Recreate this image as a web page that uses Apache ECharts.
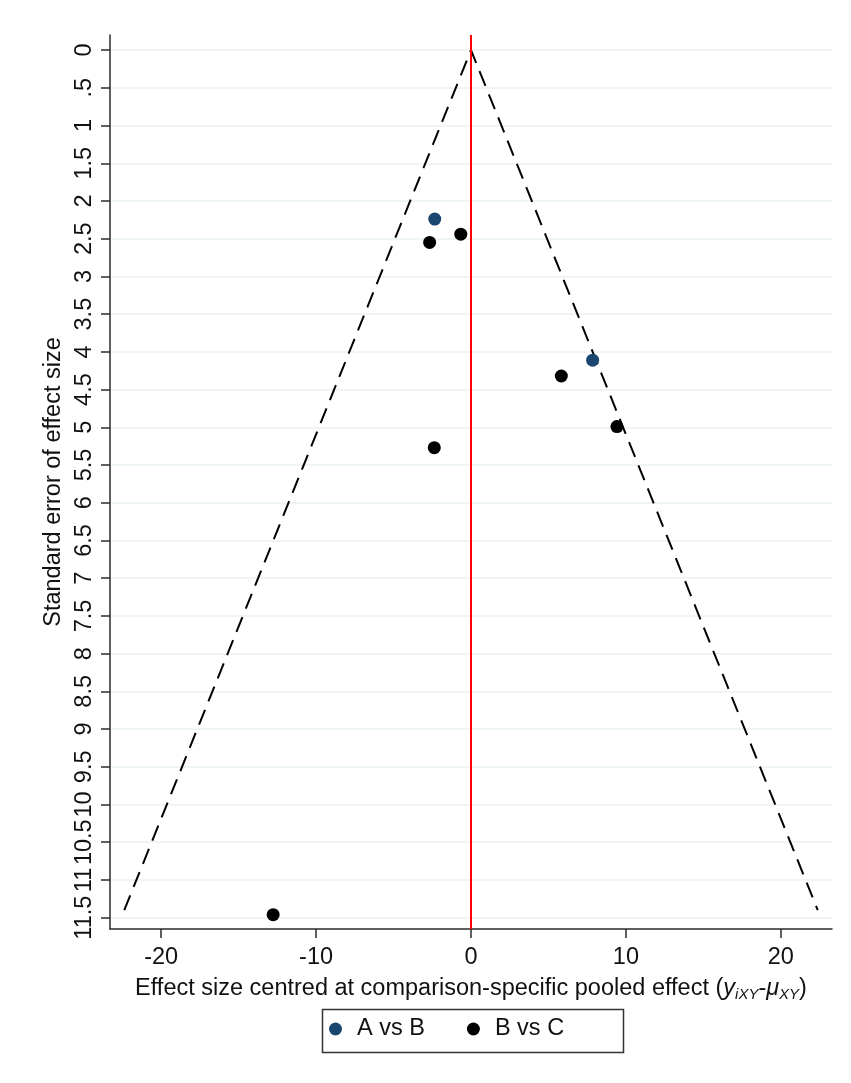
<!DOCTYPE html>
<html>
<head>
<meta charset="utf-8">
<script src="https://cdn.jsdelivr.net/npm/echarts@6/dist/echarts.min.js"></script>
<style>html,body{margin:0;padding:0;background:#fff}#c{width:851px;height:1083px}</style>
</head>
<body>
<div id="c"></div>
<script>
// ---- data ----
const yTicks = [0,0.5,1,1.5,2,2.5,3,3.5,4,4.5,5,5.5,6,6.5,7,7.5,8,8.5,9,9.5,10,10.5,11,11.5];
const xTicks = [-20,-10,0,10,20];
const seriesNames = ['A vs B','B vs C'];
const abX = [-2.34, 7.85];
const abY = [2.24, 4.11];
const bcX = [-0.66, -2.67, 5.83, 9.42, -2.37, -12.77];
const bcY = [2.44, 2.55, 4.32, 4.99, 5.27, 11.46];
const funnelX = [-22.38, 0, 22.38];
const funnelY = [11.4, 0, 11.4];

const FONT = 'Liberation Sans, Arial, sans-serif';
const FS = 23.5;
const zip = (xs, ys) => xs.map((x, i) => [x, ys[i]]);

const chart = echarts.init(document.getElementById('c'), null, {renderer: 'canvas'});
chart.setOption({
  animation: false,
  backgroundColor: '#ffffff',
  textStyle: {fontFamily: FONT},
  grid: {left: 110, right: 19, top: 35, bottom: 154, containLabel: false, outerBoundsMode: 'none'},
  xAxis: {
    type: 'value', min: -23.3, max: 23.3,
    axisLine: {show: true, onZero: false, lineStyle: {color: '#2b2b2b', width: 1.5}},
    axisTick: {show: true, length: 9, lineStyle: {color: '#2b2b2b', width: 1.5}, customValues: xTicks},
    axisLabel: {show: true, customValues: xTicks, margin: 17, fontSize: FS, color: '#111', fontFamily: FONT},
    splitLine: {show: false},
    name: 'Effect size centred at comparison-specific pooled effect ({it|y}{sub|iXY}-{it|μ}{sub|XY})',
    nameLocation: 'middle', nameGap: 40,
    nameTextStyle: {
      fontSize: FS, color: '#111', fontFamily: FONT, lineHeight: 27,
      rich: {
        it: {fontStyle: 'italic', fontSize: FS, color: '#111', fontFamily: FONT, lineHeight: 27},
        sub: {fontStyle: 'italic', fontSize: 15, color: '#111', fontFamily: FONT, lineHeight: 15, verticalAlign: 'bottom'}
      }
    }
  },
  yAxis: {
    type: 'value', inverse: true, min: -0.2, max: 11.65,
    axisLine: {show: true, onZero: false, lineStyle: {color: '#2b2b2b', width: 1.5}},
    axisTick: {show: true, length: 9, lineStyle: {color: '#2b2b2b', width: 1.5}, customValues: yTicks},
    axisLabel: {
      show: true, customValues: yTicks, rotate: 90, margin: 13, fontSize: FS, color: '#111', fontFamily: FONT,
      formatter: v => (v === 0 ? '0' : String(v).replace(/^0\./, '.'))
    },
    splitLine: {show: true, lineStyle: {color: '#eaf2f3', width: 1.5}},
    name: 'Standard error of effect size',
    nameLocation: 'middle', nameGap: 40, nameRotate: 90,
    nameTextStyle: {fontSize: FS, color: '#111', fontFamily: FONT}
  },
  legend: {
    show: true, orient: 'horizontal', left: 329, top: 1016, padding: 0,
    itemWidth: 13, itemHeight: 13, itemGap: 42,
    data: [{name: seriesNames[0], icon: 'circle'}, {name: seriesNames[1], icon: 'circle'}],
    textStyle: {fontSize: FS, color: '#111', fontFamily: FONT, lineHeight: 26, padding: [0, 0, 0, 10]}
  },
  graphic: [{
    type: 'rect', left: 320, top: 1007, silent: true, z: -1,
    shape: {width: 301, height: 43},
    style: {fill: 'none', stroke: '#333', lineWidth: 1.5}
  }],
  series: [
    {
      name: 'funnel', type: 'line', data: zip(funnelX, funnelY), symbol: 'none', z: 2,
      lineStyle: {color: '#000', width: 2, type: [16, 9]}, silent: true,
      markLine: {
        silent: true, symbol: 'none', label: {show: false},
        lineStyle: {color: '#ff0000', width: 2, type: 'solid'},
        data: [{xAxis: 0}]
      }
    },
    {
      name: seriesNames[0], type: 'scatter', data: zip(abX, abY), symbol: 'circle', symbolSize: 13, z: 5,
      itemStyle: {color: '#1a476f', opacity: 1}
    },
    {
      name: seriesNames[1], type: 'scatter', data: zip(bcX, bcY), symbol: 'circle', symbolSize: 13, z: 5,
      itemStyle: {color: '#000000', opacity: 1}
    }
  ]
});
</script>
</body>
</html>
